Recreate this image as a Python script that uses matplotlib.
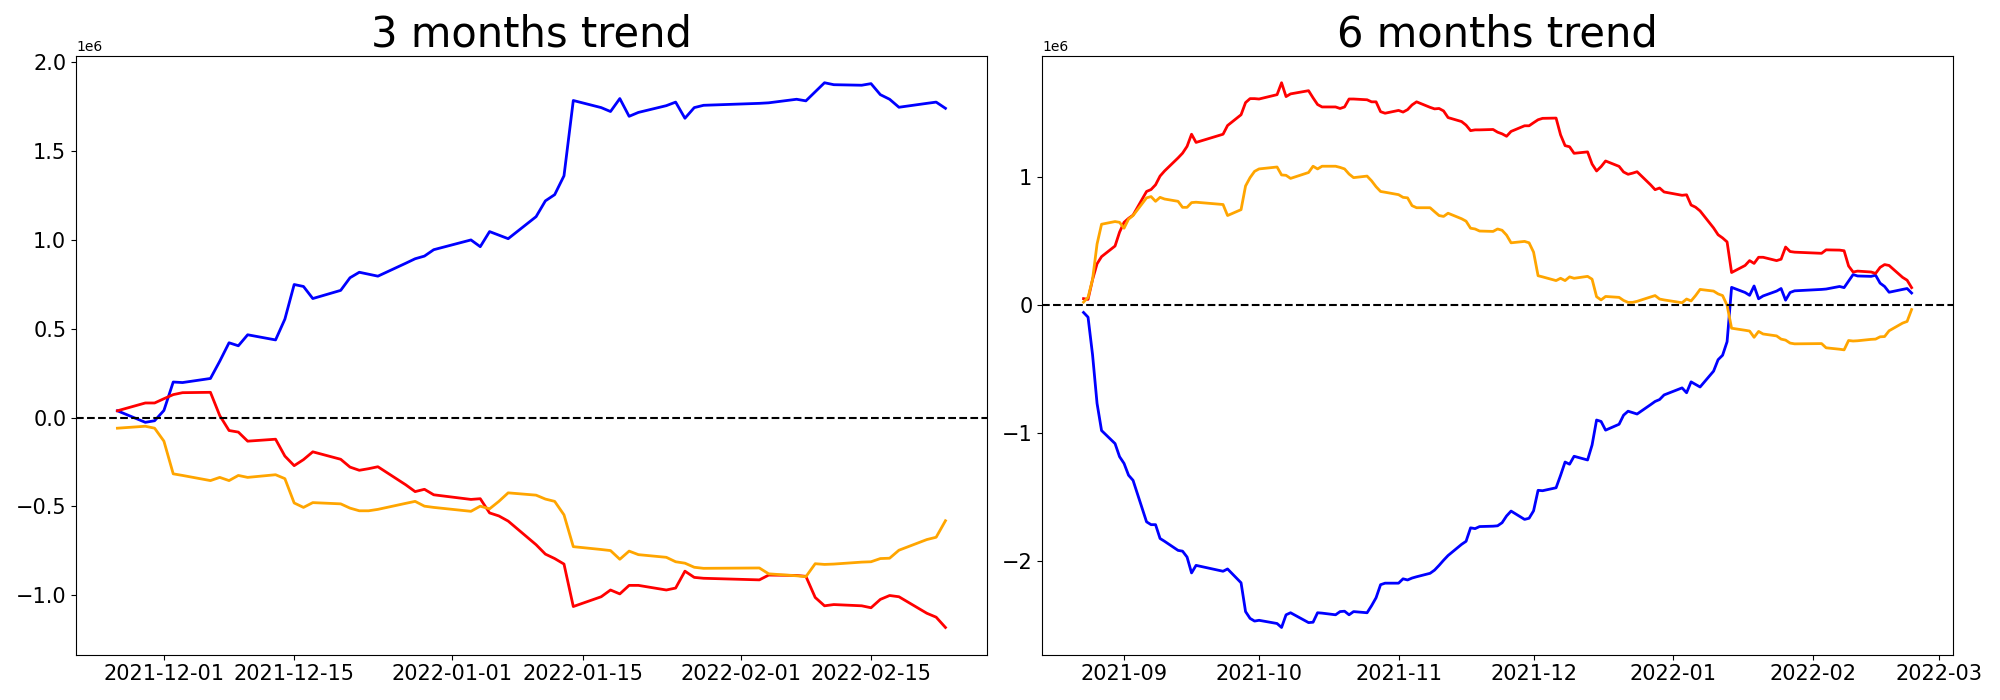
import matplotlib
matplotlib.use("Agg")
import matplotlib.pyplot as plt
import numpy as np
import pandas as pd

# KRX closing days inside the window (Chuseok, national holidays, year end, Seollal)
holidays = ["2021-09-20", "2021-09-21", "2021-09-22", "2021-10-04", "2021-10-11",
            "2021-12-31", "2022-01-31", "2022-02-01", "2022-02-02"]

dates_3m = pd.bdate_range("2021-11-26", "2022-02-23", freq="C", holidays=holidays)
dates_6m = pd.bdate_range("2021-08-23", "2022-02-23", freq="C", holidays=holidays)

# cumulative net flows, unit 1e6
blue_3m = [0.038, -0.027, -0.018,
           0.040, 0.200, 0.197, 0.220, 0.317, 0.421, 0.404, 0.466, 0.437, 0.554, 0.749,
           0.738, 0.670, 0.716, 0.787, 0.818, 0.807, 0.796, 0.869, 0.894, 0.909, 0.945,
           1.000, 0.962, 1.047, 1.027, 1.007, 1.131, 1.220, 1.255, 1.361, 1.785, 1.745,
           1.723, 1.796, 1.696, 1.718, 1.756, 1.776, 1.685, 1.745, 1.758,
           1.769, 1.772, 1.792, 1.783, 1.834, 1.885, 1.874, 1.871, 1.880, 1.818, 1.792,
           1.747, 1.769, 1.776, 1.741]
red_3m = [0.038, 0.082, 0.082,
          0.106, 0.129, 0.140, 0.142, 0.011, -0.073, -0.082, -0.133, -0.122, -0.217,
          -0.271, -0.237, -0.193, -0.235, -0.279, -0.297, -0.288, -0.277, -0.379, -0.417,
          -0.404, -0.435,
          -0.461, -0.457, -0.537, -0.554, -0.583, -0.716, -0.769, -0.794, -0.825, -1.064,
          -1.009, -0.971, -0.993, -0.945, -0.945, -0.971, -0.960, -0.865, -0.900, -0.905,
          -0.914, -0.887, -0.889, -0.894, -1.013, -1.060, -1.053, -1.060, -1.071, -1.024,
          -1.002, -1.009, -1.102, -1.124, -1.182]
orange_3m = [-0.060, -0.049, -0.060,
             -0.133, -0.317, -0.326, -0.355, -0.337, -0.355, -0.326, -0.337, -0.322,
             -0.344, -0.481, -0.506, -0.479, -0.486, -0.510, -0.525, -0.525, -0.517,
             -0.483, -0.472, -0.499, -0.506,
             -0.528, -0.499, -0.514, -0.472, -0.424, -0.437, -0.459, -0.472, -0.548,
             -0.727, -0.743, -0.749, -0.798, -0.752, -0.772, -0.787, -0.812, -0.820,
             -0.843, -0.849,
             -0.847, -0.880, -0.891, -0.896, -0.823, -0.827, -0.825, -0.814, -0.812,
             -0.794, -0.792, -0.747, -0.687, -0.674, -0.581]

blue_6m = [-0.059, -0.096, -0.389, -0.769, -0.981, -1.083, -1.185,
           -1.238, -1.330, -1.370, -1.694, -1.716, -1.716, -1.824, -1.846, -1.917, -1.923,
           -1.969, -2.093, -2.034, -2.080, -2.062, -2.170, -2.395, -2.448, -2.469,
           -2.463, -2.488, -2.519, -2.420, -2.404, -2.481, -2.478, -2.404, -2.407, -2.420,
           -2.395, -2.392, -2.420, -2.395, -2.404, -2.349, -2.287, -2.185, -2.173,
           -2.173, -2.139, -2.148, -2.133, -2.123, -2.096, -2.071, -2.034, -1.994, -1.957,
           -1.870, -1.846, -1.741, -1.747, -1.731, -1.728, -1.725, -1.701, -1.648,
           -1.610, -1.675, -1.666,
           -1.608, -1.448, -1.451, -1.428, -1.331, -1.227, -1.244, -1.182, -1.211, -1.094,
           -0.899, -0.910, -0.978, -0.932, -0.861, -0.830, -0.841, -0.852, -0.779, -0.754,
           -0.739, -0.703,
           -0.648, -0.686, -0.601, -0.621, -0.641, -0.517, -0.428, -0.393, -0.287, 0.137,
           0.097, 0.075, 0.148, 0.048, 0.070, 0.108, 0.128, 0.037, 0.097, 0.110,
           0.121, 0.124, 0.144, 0.135, 0.186, 0.237, 0.226, 0.223, 0.232, 0.170, 0.144,
           0.099, 0.121, 0.128, 0.093]
red_6m = [0.049, 0.043, 0.198, 0.321, 0.377, 0.460, 0.568,
          0.645, 0.676, 0.701, 0.886, 0.901, 0.938, 1.006, 1.046, 1.148, 1.185, 1.238,
          1.333, 1.269, 1.333, 1.401, 1.485, 1.580, 1.611, 1.611,
          1.608, 1.642, 1.735, 1.627, 1.648, 1.673, 1.617, 1.565, 1.546, 1.546, 1.534,
          1.546, 1.608, 1.608, 1.602, 1.586, 1.586, 1.509, 1.497,
          1.519, 1.506, 1.525, 1.562, 1.586, 1.543, 1.531, 1.534, 1.515, 1.463, 1.432,
          1.404, 1.361, 1.367, 1.367, 1.370, 1.349, 1.336, 1.317,
          1.355, 1.399, 1.399,
          1.423, 1.446, 1.457, 1.459, 1.328, 1.244, 1.235, 1.184, 1.195, 1.100, 1.046,
          1.080, 1.124, 1.082, 1.038, 1.020, 1.029, 1.040, 0.938, 0.900, 0.913, 0.882,
          0.856, 0.860, 0.780, 0.763, 0.734, 0.601, 0.548, 0.523, 0.492, 0.253, 0.308,
          0.346, 0.324, 0.372, 0.372, 0.346, 0.357, 0.452, 0.417, 0.412,
          0.403, 0.430, 0.428, 0.423, 0.304, 0.257, 0.264, 0.257, 0.246, 0.293, 0.315,
          0.308, 0.215, 0.193, 0.135]
orange_6m = [0.022, 0.059, 0.198, 0.475, 0.630, 0.651, 0.645,
             0.599, 0.670, 0.698, 0.836, 0.846, 0.809, 0.840, 0.827, 0.809, 0.762, 0.762,
             0.799, 0.802, 0.784, 0.698, 0.744, 0.929, 0.994, 1.043,
             1.062, 1.077, 1.015, 1.012, 0.988, 1.034, 1.083, 1.062, 1.083, 1.083, 1.074,
             1.062, 1.022, 0.994, 1.006, 0.969, 0.923, 0.886, 0.880,
             0.861, 0.840, 0.836, 0.775, 0.759, 0.759, 0.728, 0.698, 0.691, 0.716, 0.673,
             0.654, 0.599, 0.593, 0.577, 0.574, 0.593, 0.583, 0.545,
             0.485, 0.496, 0.485,
             0.412, 0.228, 0.219, 0.190, 0.208, 0.190, 0.219, 0.208, 0.223, 0.201, 0.064,
             0.039, 0.066, 0.059, 0.035, 0.020, 0.020, 0.028, 0.062, 0.073, 0.046, 0.039,
             0.017, 0.046, 0.031, 0.073, 0.121, 0.108, 0.086, 0.073, -0.003, -0.182,
             -0.198, -0.204, -0.253, -0.207, -0.227, -0.242, -0.267, -0.275, -0.298, -0.304,
             -0.302, -0.335, -0.346, -0.351, -0.278, -0.282, -0.280, -0.269, -0.267, -0.249,
             -0.247, -0.202, -0.142, -0.129, -0.036]

fig, axes = plt.subplots(1, 2, figsize=(20, 7), dpi=100)

panels = [(axes[0], "3 months trend", dates_3m, blue_3m, red_3m, orange_3m),
          (axes[1], "6 months trend", dates_6m, blue_6m, red_6m, orange_6m)]
for ax, title, d, b, r, o in panels:
    ax.plot(d, np.array(b) * 1e6, color="blue", linewidth=2)
    ax.plot(d, np.array(r) * 1e6, color="red", linewidth=2)
    ax.plot(d, np.array(o) * 1e6, color="orange", linewidth=2)
    ax.axhline(0, color="black", linestyle="--")
    ax.set_title(title, fontsize=30)
    ax.tick_params(labelsize=15)

plt.subplots_adjust(left=0.038, right=0.9765, bottom=0.0647, top=0.9207, wspace=0.0607)
plt.savefig("out.png")
